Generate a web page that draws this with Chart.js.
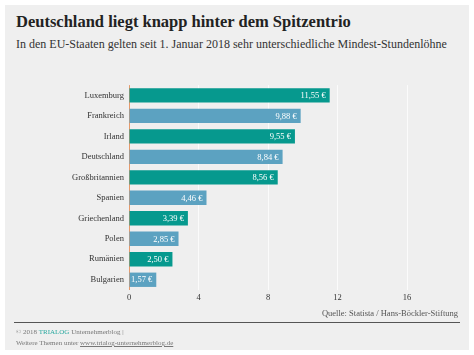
<!DOCTYPE html>
<html>
<head>
<meta charset="utf-8">
<script src="https://cdn.jsdelivr.net/npm/chart.js@4/dist/chart.umd.min.js"></script>
<style>
  html, body { margin:0; padding:0; background:#ffffff; }
  body { width:474px; height:355px; position:relative; overflow:hidden; font-family:"Liberation Serif", serif; }
  #panel { position:absolute; left:5px; top:5px; width:464px; height:345px; background:#efefef; }
  #title { position:absolute; left:16px; top:12px; font-size:16.5px; font-weight:bold; color:#222; white-space:nowrap; }
  #subtitle { position:absolute; left:16px; top:37px; font-size:12px; color:#333; white-space:nowrap; }
  #wrap { position:absolute; left:0; top:75px; width:474px; height:240px; }
  #source { position:absolute; right:16px; top:308px; font-size:8.5px; color:#555; white-space:nowrap; }
  #rule { position:absolute; left:14px; top:322px; width:446px; height:1px; background:#555; }
  #foot { position:absolute; left:16px; top:327px; font-size:7px; line-height:11px; color:#777; white-space:nowrap; }
  #foot .brand { color:#2aa9a0; }
  #foot .link { text-decoration:underline; }
</style>
</head>
<body>
<div id="panel"></div>
<div id="title">Deutschland liegt knapp hinter dem Spitzentrio</div>
<div id="subtitle">In den EU-Staaten gelten seit 1. Januar 2018 sehr unterschiedliche Mindest-Stundenlöhne</div>
<div id="wrap"><canvas id="c" width="474" height="240"></canvas></div>
<div id="source">Quelle: Statista / Hans-Böckler-Stiftung</div>
<div id="rule"></div>
<div id="foot">© 2018 <span class="brand">TRIALOG</span> Unternehmerblog |<br>Weitere Themen unter <span class="link">www.trialog-unternehmerblog.de</span></div>
<script>
const countries = ["Luxemburg","Frankreich","Irland","Deutschland","Großbritannien","Spanien","Griechenland","Polen","Rumänien","Bulgarien"];
const wages = [11.55, 9.88, 9.55, 8.84, 8.56, 4.46, 3.39, 2.85, 2.50, 1.57];
const xTicks = [0, 4, 8, 12, 16];

const TEAL = '#06998e', BLUE = '#5ca2c1';
const colors = countries.map((_, i) => i % 2 === 0 ? TEAL : BLUE);

const valueLabels = {
  id: 'valueLabels',
  afterDatasetsDraw(chart) {
    const ctx = chart.ctx;
    const meta = chart.getDatasetMeta(0);
    ctx.save();
    ctx.font = '8.5px "Liberation Serif", serif';
    ctx.fillStyle = '#ffffff';
    ctx.textAlign = 'right';
    ctx.textBaseline = 'middle';
    meta.data.forEach((bar, i) => {
      const txt = wages[i].toFixed(2).replace('.', ',') + ' €';
      ctx.fillText(txt, bar.x - 4, bar.y + 0.5);
    });
    ctx.restore();
  }
};

new Chart(document.getElementById('c'), {
  type: 'bar',
  data: {
    labels: countries,
    datasets: [{
      data: wages,
      backgroundColor: colors,
      borderWidth: 0,
      categoryPercentage: 0.7,
      barPercentage: 1.0
    }]
  },
  options: {
    indexAxis: 'y',
    responsive: false,
    animation: false,
    devicePixelRatio: 1,
    layout: { padding: { left: 0, right: 67, top: 8, bottom: 0 } },
    plugins: { legend: { display: false }, tooltip: { enabled: false }, title: { display: false } },
    scales: {
      x: {
        type: 'linear',
        min: 0, max: 16,
        afterBuildTicks(scale) { scale.ticks = xTicks.map(v => ({ value: v })); },
        afterFit(scale) { scale.height = 25; },
        grid: {
          drawTicks: false,
          color: ctx => ctx.tick && ctx.tick.value === 0 ? '#e59a6c' : '#fbfbfb',
          lineWidth: 1
        },
        border: { display: false },
        ticks: { padding: 3, color: '#333', font: { family: '"Liberation Serif", serif', size: 8.5 } }
      },
      y: {
        afterFit(scale) { scale.width = 129; },
        grid: { display: false, drawTicks: false },
        border: { display: false },
        ticks: { padding: 5, color: '#333', font: { family: '"Liberation Serif", serif', size: 8.5 } }
      }
    }
  },
  plugins: [valueLabels]
});
</script>
</body>
</html>
